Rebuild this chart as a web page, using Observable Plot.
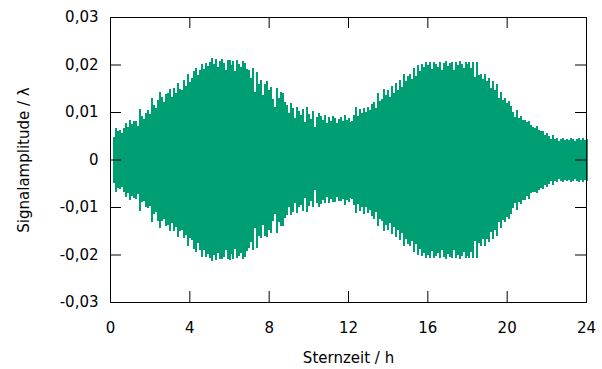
<!DOCTYPE html>
<html>
<head>
<meta charset="utf-8">
<script src="https://cdn.jsdelivr.net/npm/d3@7"></script>
<script src="https://cdn.jsdelivr.net/npm/@observablehq/plot@0.6"></script>
<style>
  html, body { margin: 0; padding: 0; background: #fff; }
  #chart svg { display: block; }
</style>
</head>
<body>
<div id="chart"></div>
<script>
// Sampling grid of the fringe signal (sidereal time in hours)
const tStart = 0.2;
const tStep = 0.1;

// Upper and lower excursion of the signal in each sample window (in λ)
const upper = [
  0.0048, 0.0066, 0.0059, 0.0063, 0.0056, 0.0067, 0.0076, 0.0069,
  0.0083, 0.0074, 0.0081, 0.0082, 0.0070, 0.0106, 0.0092, 0.0085, 0.0098, 0.0104,
  0.0096, 0.0129, 0.0115, 0.0108, 0.0126, 0.0143, 0.0131, 0.0122, 0.0138, 0.0140,
  0.0148, 0.0132, 0.0151, 0.0140, 0.0162, 0.0149, 0.0146, 0.0168, 0.0155, 0.0179,
  0.0164, 0.0172, 0.0186, 0.0192, 0.0177, 0.0189, 0.0202, 0.0190, 0.0204, 0.0196,
  0.0206, 0.0213, 0.0201, 0.0211, 0.0195, 0.0208, 0.0212, 0.0203, 0.0189, 0.0209,
  0.0210, 0.0198, 0.0207, 0.0186, 0.0209, 0.0202, 0.0194, 0.0208, 0.0204, 0.0191,
  0.0188, 0.0171, 0.0193, 0.0143, 0.0185, 0.0159, 0.0167, 0.0136, 0.0158, 0.0166,
  0.0146, 0.0152, 0.0127, 0.0111, 0.0151, 0.0130, 0.0143, 0.0139, 0.0121, 0.0115,
  0.0097, 0.0118, 0.0109, 0.0087, 0.0110, 0.0102, 0.0094, 0.0107, 0.0080, 0.0111,
  0.0095, 0.0086, 0.0103, 0.0068, 0.0089, 0.0097, 0.0091, 0.0083, 0.0094, 0.0076,
  0.0090, 0.0082, 0.0092, 0.0088, 0.0077, 0.0085, 0.0090, 0.0081, 0.0093, 0.0084,
  0.0087, 0.0079, 0.0082, 0.0094, 0.0110, 0.0091, 0.0106, 0.0098, 0.0109, 0.0099,
  0.0110, 0.0104, 0.0116, 0.0122, 0.0109, 0.0139, 0.0124, 0.0128, 0.0148, 0.0136,
  0.0146, 0.0132, 0.0154, 0.0140, 0.0161, 0.0147, 0.0167, 0.0153, 0.0181, 0.0166,
  0.0175, 0.0181, 0.0169, 0.0193, 0.0175, 0.0199, 0.0187, 0.0202, 0.0194, 0.0205,
  0.0198, 0.0205, 0.0191, 0.0206, 0.0201, 0.0195, 0.0206, 0.0189, 0.0204, 0.0207,
  0.0196, 0.0203, 0.0206, 0.0188, 0.0205, 0.0199, 0.0207, 0.0202, 0.0193, 0.0206,
  0.0201, 0.0205, 0.0192, 0.0206, 0.0174, 0.0205, 0.0178, 0.0180, 0.0169, 0.0180,
  0.0165, 0.0172, 0.0151, 0.0165, 0.0146, 0.0159, 0.0130, 0.0142, 0.0126, 0.0130,
  0.0118, 0.0123, 0.0112, 0.0101, 0.0090, 0.0104, 0.0087, 0.0092, 0.0084, 0.0083,
  0.0078, 0.0081, 0.0073, 0.0069, 0.0066, 0.0071, 0.0062, 0.0059, 0.0061, 0.0052,
  0.0056, 0.0049, 0.0044, 0.0051, 0.0043, 0.0045, 0.0040, 0.0044, 0.0046, 0.0042,
  0.0044, 0.0041, 0.0045, 0.0043, 0.0040, 0.0044, 0.0046, 0.0042, 0.0045, 0.0041, 0.0043
];
const lower = [
  -0.0050, -0.0068, -0.0061, -0.0062, -0.0057, -0.0069, -0.0078, -0.0070,
  -0.0085, -0.0076, -0.0080, -0.0084, -0.0072, -0.0108, -0.0090, -0.0087, -0.0100, -0.0103,
  -0.0098, -0.0131, -0.0114, -0.0110, -0.0129, -0.0144, -0.0130, -0.0125, -0.0140, -0.0138,
  -0.0150, -0.0134, -0.0150, -0.0143, -0.0163, -0.0150, -0.0148, -0.0166, -0.0158, -0.0182,
  -0.0166, -0.0170, -0.0188, -0.0194, -0.0176, -0.0191, -0.0205, -0.0191, -0.0206, -0.0198,
  -0.0208, -0.0213, -0.0200, -0.0212, -0.0197, -0.0209, -0.0210, -0.0205, -0.0191, -0.0210,
  -0.0211, -0.0199, -0.0209, -0.0188, -0.0207, -0.0204, -0.0196, -0.0210, -0.0205, -0.0193,
  -0.0186, -0.0173, -0.0191, -0.0145, -0.0187, -0.0161, -0.0165, -0.0138, -0.0160, -0.0164,
  -0.0148, -0.0154, -0.0129, -0.0114, -0.0155, -0.0132, -0.0141, -0.0140, -0.0123, -0.0117,
  -0.0101, -0.0116, -0.0111, -0.0092, -0.0112, -0.0100, -0.0096, -0.0109, -0.0081, -0.0111,
  -0.0097, -0.0088, -0.0101, -0.0064, -0.0091, -0.0099, -0.0093, -0.0085, -0.0092, -0.0078,
  -0.0092, -0.0084, -0.0090, -0.0090, -0.0079, -0.0087, -0.0088, -0.0083, -0.0095, -0.0086,
  -0.0089, -0.0081, -0.0084, -0.0096, -0.0112, -0.0093, -0.0108, -0.0100, -0.0114, -0.0101,
  -0.0112, -0.0106, -0.0118, -0.0125, -0.0111, -0.0141, -0.0126, -0.0130, -0.0150, -0.0138,
  -0.0148, -0.0134, -0.0156, -0.0142, -0.0163, -0.0149, -0.0169, -0.0155, -0.0183, -0.0168,
  -0.0177, -0.0183, -0.0171, -0.0195, -0.0177, -0.0201, -0.0189, -0.0204, -0.0196, -0.0207,
  -0.0200, -0.0207, -0.0193, -0.0208, -0.0203, -0.0197, -0.0208, -0.0191, -0.0206, -0.0209,
  -0.0198, -0.0205, -0.0208, -0.0190, -0.0207, -0.0201, -0.0209, -0.0204, -0.0195, -0.0208,
  -0.0203, -0.0207, -0.0194, -0.0208, -0.0172, -0.0207, -0.0176, -0.0182, -0.0167, -0.0182,
  -0.0167, -0.0174, -0.0153, -0.0167, -0.0148, -0.0161, -0.0132, -0.0144, -0.0128, -0.0132,
  -0.0120, -0.0125, -0.0114, -0.0103, -0.0092, -0.0106, -0.0089, -0.0094, -0.0086, -0.0085,
  -0.0076, -0.0083, -0.0071, -0.0068, -0.0068, -0.0070, -0.0064, -0.0060, -0.0063, -0.0054,
  -0.0058, -0.0051, -0.0046, -0.0053, -0.0045, -0.0047, -0.0042, -0.0046, -0.0048, -0.0044,
  -0.0046, -0.0043, -0.0047, -0.0045, -0.0042, -0.0046, -0.0048, -0.0044, -0.0047, -0.0043, -0.0045
];

const xTicks = [0, 4, 8, 12, 16, 20, 24];
const yTicks = [-0.03, -0.02, -0.01, 0, 0.01, 0.02, 0.03];
const xLabel = "Sternzeit / h";
const yLabel = "Signalamplitude / λ";

const samples = upper.map((hi, i) => ({
  t: +(tStart + i * tStep).toFixed(2),
  hi,
  lo: lower[i]
}));

const width = 602, height = 369;
const margin = {top: 17, right: 16, bottom: 67, left: 110};
const innerW = width - margin.left - margin.right;
const innerH = height - margin.top - margin.bottom;
const tickLen = 11;

// Decimal comma, plain hyphen for negatives
const fmtY = d => d === 0 ? "0" : d.toFixed(2).replace(".", ",");

const chart = Plot.plot({
  width, height,
  marginTop: margin.top, marginRight: margin.right,
  marginBottom: margin.bottom, marginLeft: margin.left,
  style: {fontFamily: "DejaVu Sans, sans-serif", fontSize: "15px", color: "#000", background: "#fff"},
  x: {domain: [0, 24]},
  y: {domain: [-0.03, 0.03]},
  marks: [
    Plot.ruleX(samples, {x: "t", y1: "lo", y2: "hi", stroke: "#009e73", strokeWidth: 2, shapeRendering: "crispEdges"}),
    // inward ticks on all four sides
    Plot.tickX(xTicks, {x: d => d, stroke: "#000", insetTop: innerH - tickLen}),
    Plot.tickX(xTicks, {x: d => d, stroke: "#000", insetBottom: innerH - tickLen}),
    Plot.tickY(yTicks, {y: d => d, stroke: "#000", insetRight: innerW - tickLen}),
    Plot.tickY(yTicks, {y: d => d, stroke: "#000", insetLeft: innerW - tickLen}),
    Plot.frame({stroke: "#000", strokeWidth: 1}),
    Plot.axisX({ticks: xTicks, tickSize: 0, tickPadding: 20, tickFormat: d => String(d),
      label: xLabel, labelAnchor: "center", labelArrow: "none", labelOffset: 60}),
    Plot.axisY({ticks: yTicks, tickSize: 0, tickPadding: 12, tickFormat: fmtY,
      label: yLabel, labelAnchor: "center", labelArrow: "none", labelOffset: 92})
  ]
});

document.getElementById("chart").append(chart);
</script>
</body>
</html>
